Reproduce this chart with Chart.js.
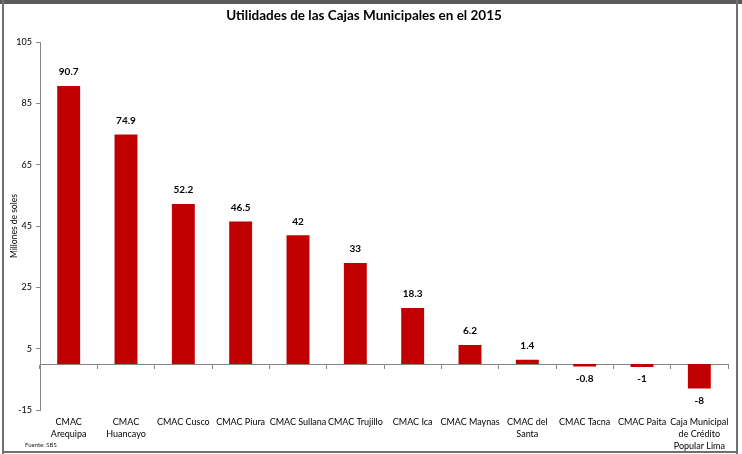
<!DOCTYPE html>
<html>
<head>
<meta charset="utf-8">
<script src="https://cdn.jsdelivr.net/npm/chart.js@4"></script>
<style>
  body { margin: 0; background: #fff; }
  #wrap { position: relative; width: 742px; height: 454px; }
  #chart { position: absolute; left: 0; top: 0; }
  .edge { position: absolute; background: #707070; }
  #fuente { position: absolute; left: 25px; top: 441px; font: 6px Lato, sans-serif; color: #222; }
</style>
</head>
<body>
<div id="wrap">
  <canvas id="chart" width="742" height="454"></canvas>
  <div class="edge" style="left:0;top:0;width:742px;height:4px;background:#5a5a5a"></div>
  <div class="edge" style="left:2px;top:0;width:2px;height:454px"></div>
  <div class="edge" style="left:736px;top:0;width:2px;height:454px"></div>
  <div class="edge" style="left:2px;top:451px;width:736px;height:2px"></div>
  <div id="fuente">Fuente: SBS</div>
</div>
<script>
// datos
const cajas = [
  ['CMAC', 'Arequipa'], ['CMAC', 'Huancayo'], 'CMAC Cusco', 'CMAC Piura',
  'CMAC Sullana', 'CMAC Trujillo', 'CMAC Ica', 'CMAC Maynas',
  ['CMAC del', 'Santa'], 'CMAC Tacna', 'CMAC Paita',
  ['Caja Municipal', 'de Crédito', 'Popular Lima']
];
const utilidades = [90.7, 74.9, 52.2, 46.5, 42, 33, 18.3, 6.2, 1.4, -0.8, -1, -8];
const yMin = -15;
const yMax = 105;
const yStep = 20;

const font = 'Lato, "Open Sans", sans-serif';

// etiquetas de valor sobre/bajo cada barra
const valueLabels = {
  id: 'valueLabels',
  afterDatasetsDraw(chart) {
    const ctx = chart.ctx;
    const meta = chart.getDatasetMeta(0);
    ctx.save();
    ctx.font = 'bold 10px ' + font;
    ctx.fillStyle = '#000';
    ctx.textAlign = 'center';
    ctx.textBaseline = 'middle';
    meta.data.forEach((bar, i) => {
      const v = utilidades[i];
      const y = v >= 0 ? bar.y - 14 : bar.y + 12;
      ctx.fillText(String(v), bar.x, y);
    });
    ctx.restore();
  }
};

new Chart(document.getElementById('chart'), {
  type: 'bar',
  data: {
    labels: cajas,
    datasets: [{
      data: utilidades,
      backgroundColor: '#C00000',
      borderWidth: 0,
      barPercentage: 0.4,
      categoryPercentage: 1
    }]
  },
  options: {
    responsive: false,
    animation: false,
    layout: { padding: { left: 0, right: 14, top: 0, bottom: 0 } },
    plugins: {
      legend: { display: false },
      tooltip: { enabled: false },
      title: {
        display: true,
        text: 'Utilidades de las Cajas Municipales en el 2015',
        color: '#000',
        font: { family: font, size: 13.5, weight: 'bold' },
        padding: { top: 8, bottom: 18 }
      }
    },
    scales: {
      x: {
        position: { y: 0 },
        grid: { drawOnChartArea: false, tickLength: 4, color: '#868686' },
        border: { color: '#868686' },
        ticks: { display: false }
      },
      x2: {
        type: 'category',
        position: 'bottom',
        labels: cajas,
        offset: true,
        afterFit(scale) { scale.height = 44; },
        grid: { display: false, drawTicks: false, tickLength: 0 },
        border: { display: false },
        ticks: {
          autoSkip: false,
          maxRotation: 0,
          minRotation: 0,
          padding: 6,
          color: '#000',
          font: { family: font, size: 9, lineHeight: 1.35 }
        }
      },
      y: {
        min: yMin,
        max: yMax,
        afterBuildTicks(scale) {
          scale.ticks = [];
          for (let v = yMin; v <= yMax; v += yStep) scale.ticks.push({ value: v });
        },
        afterFit(scale) { scale.width = 40; },
        grid: { drawOnChartArea: false, tickLength: 4, color: '#868686' },
        border: { color: '#868686' },
        ticks: {
          color: '#000',
          padding: 4,
          font: { family: font, size: 9 }
        },
        title: {
          display: true,
          text: 'Millones de soles',
          color: '#000',
          font: { family: font, size: 8.5 },
          padding: { top: 9, bottom: 0 }
        }
      }
    }
  },
  plugins: [valueLabels]
});
</script>
</body>
</html>
